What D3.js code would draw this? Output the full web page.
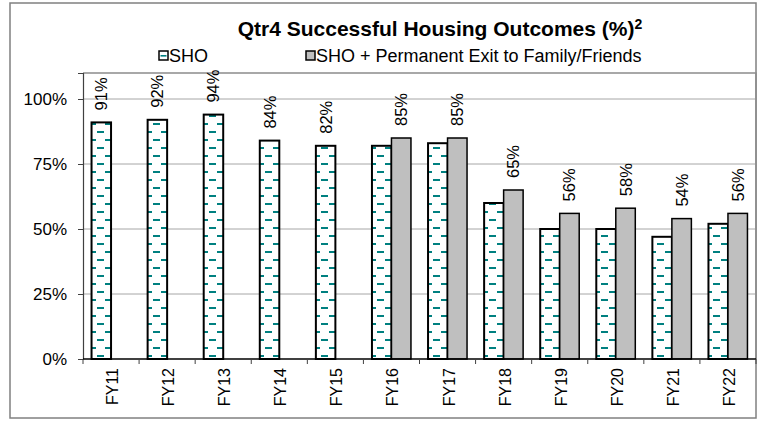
<!DOCTYPE html>
<html>
<head>
    <script src="https://d3js.org/d3.v7.min.js"></script>
    <style>
        body { margin: 0; background: #fff; }
        svg text { font-family: "Liberation Sans", Arial, sans-serif; fill: #000; }
    </style>
</head>
<body>
    <div id="chart"></div>
    <script>
        // data
        var years = ["FY11", "FY12", "FY13", "FY14", "FY15", "FY16", "FY17", "FY18", "FY19", "FY20", "FY21", "FY22"];
        var sho = [0.91, 0.92, 0.94, 0.84, 0.82, 0.82, 0.83, 0.60, 0.50, 0.50, 0.47, 0.52];
        var shoFamily = [null, null, null, null, null, 0.85, 0.85, 0.65, 0.56, 0.58, 0.54, 0.56];
        var yTicks = [0, 0.25, 0.5, 0.75, 1];
        var seriesNames = ["SHO", "SHO + Permanent Exit to Family/Friends"];

        var W = 761, H = 427;
        var plot = { left: 83, right: 756, top: 73, bottom: 359 };

        var svg = d3.select("#chart").append("svg")
            .attr("width", W)
            .attr("height", H);

        // teal dash pattern for SHO bars
        var defs = svg.append("defs");
        var pat = defs.append("pattern")
            .attr("id", "dash")
            .attr("patternUnits", "userSpaceOnUse")
            .attr("width", 16)
            .attr("height", 16);
        pat.append("rect").attr("width", 16).attr("height", 16).attr("fill", "#fff");
        pat.append("rect").attr("x", 1).attr("y", 3).attr("width", 7).attr("height", 2).attr("fill", "#008080");
        pat.append("rect").attr("x", 9).attr("y", 11).attr("width", 7).attr("height", 2).attr("fill", "#008080");

        // outer border
        svg.append("rect")
            .attr("x", 10).attr("y", 3)
            .attr("width", 746).attr("height", 415)
            .attr("fill", "none")
            .attr("stroke", "#808080")
            .attr("stroke-width", 1.5);

        var x = d3.scaleBand()
            .domain(years)
            .range([plot.left, plot.right]);

        var y = d3.scaleLinear()
            .domain([0, 1.1])
            .range([plot.bottom, plot.top]);

        // gridlines
        svg.append("g")
            .selectAll("line")
            .data(yTicks.slice(1))
            .enter().append("line")
            .attr("x1", plot.left).attr("x2", plot.right)
            .attr("y1", function (d) { return y(d); })
            .attr("y2", function (d) { return y(d); })
            .attr("stroke", "#a6a6a6")
            .attr("stroke-width", 1);

        // plot box top / right
        svg.append("path")
            .attr("d", "M" + plot.left + "," + plot.top + "H" + plot.right + "V" + plot.bottom)
            .attr("fill", "none")
            .attr("stroke", "#8c8c8c")
            .attr("stroke-width", 1.5);

        // bars
        var barW = 19.5;
        var bw = x.bandwidth();

        svg.append("g")
            .selectAll("rect")
            .data(years)
            .enter().append("rect")
            .attr("x", function (d) { return x(d) + bw / 2 - barW; })
            .attr("y", function (d, i) { return y(sho[i]); })
            .attr("width", barW)
            .attr("height", function (d, i) { return y(0) - y(sho[i]); })
            .attr("fill", "url(#dash)")
            .attr("stroke", "#000")
            .attr("stroke-width", 2);

        svg.append("g")
            .selectAll("rect")
            .data(years.filter(function (d, i) { return shoFamily[i] != null; }))
            .enter().append("rect")
            .attr("x", function (d) { return x(d) + bw / 2; })
            .attr("y", function (d) { return y(shoFamily[years.indexOf(d)]); })
            .attr("width", barW)
            .attr("height", function (d) { return y(0) - y(shoFamily[years.indexOf(d)]); })
            .attr("fill", "#bfbfbf")
            .attr("stroke", "#000")
            .attr("stroke-width", 1.5);

        // data labels (on the tallest series shown)
        svg.append("g")
            .selectAll("text")
            .data(years)
            .enter().append("text")
            .attr("transform", function (d, i) {
                var v = shoFamily[i] != null ? shoFamily[i] : sho[i];
                var cx = shoFamily[i] != null ? x(d) + bw / 2 + barW / 2 : x(d) + bw / 2 - barW / 2;
                return "translate(" + (cx + 6) + "," + (y(v) - 12) + ") rotate(-90)";
            })
            .attr("font-size", 16.5)
            .text(function (d, i) {
                var v = shoFamily[i] != null ? shoFamily[i] : sho[i];
                return d3.format(".0%")(v);
            });

        // y axis
        var yAxis = svg.append("g")
            .attr("transform", "translate(" + plot.left + ",0)")
            .call(d3.axisLeft(y).tickValues(yTicks).tickFormat(d3.format(".0%")).tickSize(5).tickPadding(11));
        yAxis.select(".domain").attr("stroke", "#404040").attr("stroke-width", 1.2);
        yAxis.selectAll(".tick line").attr("stroke", "#404040");
        yAxis.selectAll("text").attr("font-size", 17).attr("font-family", "Liberation Sans, Arial, sans-serif").attr("fill", "#000");

        // x axis, ticks between categories
        var xg = svg.append("g");
        xg.append("line")
            .attr("x1", plot.left).attr("x2", plot.right)
            .attr("y1", plot.bottom).attr("y2", plot.bottom)
            .attr("stroke", "#000").attr("stroke-width", 1.5);
        xg.selectAll("line.tk")
            .data(years.concat(["end"]))
            .enter().append("line")
            .attr("class", "tk")
            .attr("x1", function (d, i) { return plot.left + i * bw; })
            .attr("x2", function (d, i) { return plot.left + i * bw; })
            .attr("y1", plot.bottom).attr("y2", plot.bottom + 5)
            .attr("stroke", "#404040");
        xg.selectAll("text")
            .data(years)
            .enter().append("text")
            .attr("transform", function (d) {
                return "translate(" + (x(d) + bw / 2 + 7) + "," + (plot.bottom + 9) + ") rotate(-90)";
            })
            .attr("text-anchor", "end")
            .attr("font-size", 16)
            .text(function (d) { return d; });

        // title
        svg.append("text")
            .attr("x", 440).attr("y", 36)
            .attr("text-anchor", "middle")
            .attr("font-family", "Roboto, sans-serif")
            .attr("font-weight", "bold")
            .attr("font-size", 21)
            .text("Qtr4 Successful Housing Outcomes (%)")
            .append("tspan")
            .attr("dy", -7)
            .attr("font-size", 14)
            .text("2");

        // legend
        var legend = svg.append("g");
        var legX = [159, 306];
        legend.selectAll("rect")
            .data(seriesNames)
            .enter().append("rect")
            .attr("x", function (d, i) { return legX[i]; })
            .attr("y", 51)
            .attr("width", 9).attr("height", 9)
            .attr("fill", function (d, i) { return i == 0 ? "#fff" : "#bfbfbf"; })
            .attr("stroke", "#000")
            .attr("stroke-width", 1.5);
        legend.append("rect")
            .attr("x", legX[0] + 1.5).attr("y", 55)
            .attr("width", 6).attr("height", 1.6)
            .attr("fill", "#008080");
        legend.selectAll("text")
            .data(seriesNames)
            .enter().append("text")
            .attr("x", function (d, i) { return legX[i] + 10; })
            .attr("y", 62)
            .attr("font-family", "Roboto, sans-serif")
            .attr("font-size", 18)
            .text(function (d) { return d; });
    </script>
</body>
</html>
